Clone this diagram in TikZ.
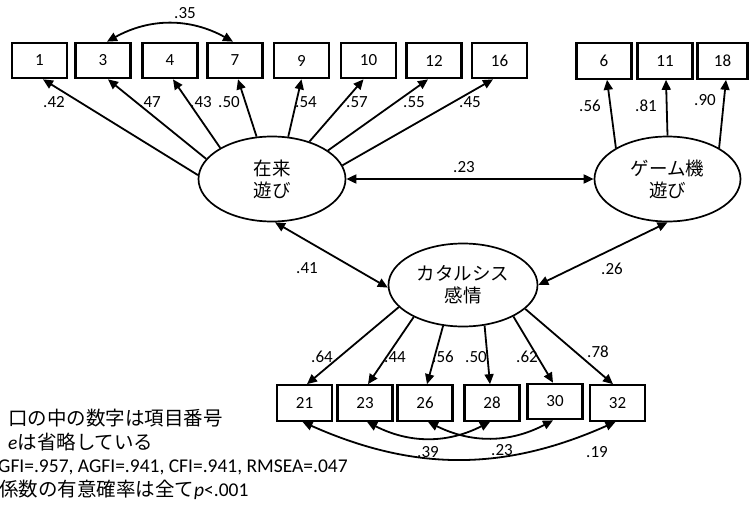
\documentclass[tikz,border=0pt]{standalone}
\usepackage{fontspec}
\setmainfont{Carlito}
\newfontfamily\jp{Noto Sans CJK JP}
\newfontfamily\lat{Carlito}
\usetikzlibrary{shapes.geometric,arrows.meta,calc}
\begin{document}
\begin{tikzpicture}[x=1pt,y=1pt,
  obs/.style={draw,line width=2.2pt,minimum width=55pt,minimum height=35.5pt,inner sep=0pt,font=\fontsize{17}{19}\selectfont},
  lat/.style={draw,ellipse,line width=1.7pt,inner sep=0pt,align=center,font=\fontsize{18.5}{22}\jp},
  pth/.style={line width=1.8pt,-{Triangle[length=10pt,width=9pt]}},
  cov/.style={line width=1.8pt,{Triangle[length=10pt,width=9pt]}-{Triangle[length=10pt,width=9pt]}},
  coef/.style={font=\fontsize{17}{19}\selectfont,inner sep=0pt},
  note/.style={font=\fontsize{19.5}{22}\jp,anchor=west,inner sep=0pt}
]
\useasboundingbox (0,0) rectangle (749,-506);
% top observed
\node[obs] (b1) at (39.5,-60.5) {1};
\node[obs] (b3) at (103,-60.5) {3};
\node[obs] (b4) at (170,-60.5) {4};
\node[obs] (b7) at (235,-60.5) {7};
\node[obs] (b9) at (301.5,-60.5) {9};
\node[obs] (b10) at (368.5,-60.5) {10};
\node[obs] (b12) at (434,-60.5) {12};
\node[obs] (b16) at (499.5,-60.5) {16};
\node[obs] (b6) at (604,-61) {6};
\node[obs] (b11) at (665,-61) {11};
\node[obs,minimum width=50pt] (b18) at (722.5,-61) {18};
% bottom observed
\node[obs] (b21) at (304.5,-403) {21};
\node[obs] (b23) at (365,-403) {23};
\node[obs] (b26) at (425,-403) {26};
\node[obs] (b28) at (492,-403) {28};
\node[obs] (b30) at (555,-401.5) {30};
\node[obs] (b32) at (617.5,-403) {32};
% latent
\node[lat,minimum width=147pt,minimum height=85pt] (zr) at (272,-179) {在来\\遊び};
\node[lat,minimum width=146pt,minimum height=85pt] (gm) at (667.5,-179) {ゲーム機\\遊び};
\node[lat,minimum width=149pt,minimum height=83pt] (ct) at (463,-285) {カタルシス\\感情};
% loadings
\draw[pth] (zr.177) -- ([xshift=3.5pt]b1.south);
\draw[pth] (zr.163) -- ([xshift=5pt]b3.south);
\draw[pth] (zr.149) -- ([xshift=3pt]b4.south);
\draw[pth] (zr.110) -- ([xshift=3pt]b7.south);
\draw[pth] (zr.69) -- (b9.south);
\draw[pth] (zr.45) -- ([xshift=-5pt]b10.south);
\draw[pth] (zr.27) -- ([xshift=-6pt]b12.south);
\draw[pth] (zr.11) -- ([xshift=-6.5pt]b16.south);
\draw[pth] (gm.149) -- ([xshift=3pt]b6.south);
\draw[pth] (gm.90) -- ([xshift=1pt]b11.south);
\draw[pth] (gm.31) -- ([xshift=3.5pt]b18.south);
\draw[pth] (ct.199) -- ([xshift=2.5pt]b21.north);
\draw[pth] (ct.213) -- ([xshift=3pt]b23.north);
\draw[pth] (ct.244) -- ([xshift=2pt]b26.north);
\draw[pth] (ct.298) -- ([xshift=-2pt]b28.north);
\draw[pth] (ct.328) -- ([xshift=-2pt]b30.north);
\draw[pth] (ct.339) -- ([xshift=-4.5pt]b32.north);
% covariances
\draw[cov] (zr.east) -- (gm.west);
\draw[cov] (zr.274) -- (ct.182);
\draw[cov] (gm.270) -- (ct.0);
\draw[cov] ([xshift=4pt]b3.north) to[bend left=29] ([xshift=-2pt]b7.north);
\draw[cov] ([xshift=-2pt]b21.south) to[bend right=24] ([xshift=-2pt]b32.south);
\draw[cov] ([xshift=2pt]b23.south) to[bend right=27] ([xshift=-2pt]b28.south);
\draw[cov] ([xshift=3pt]b26.south) to[bend right=27] ([xshift=-2pt]b30.south);
% coefficients
\node[coef] (c35) at (185,-13) {.35};
\node[coef] (c1) at (54,-102) {.42};
\node[coef] (c3) at (150,-102) {.47};
\node[coef] (c4) at (201,-102) {.43};
\node[coef] (c7) at (229,-102) {.50};
\node[coef] (c9) at (306,-102) {.54};
\node[coef] (c10) at (357,-102) {.57};
\node[coef] (c12) at (414,-102) {.55};
\node[coef] (c16) at (470,-102) {.45};
\node[coef] (c6) at (590,-106) {.56};
\node[coef] (c11) at (646,-106) {.81};
\node[coef] (c18) at (705,-100) {.90};
\node[coef] (czg) at (464,-167) {.23};
\node[coef] (czc) at (307,-268) {.41};
\node[coef] (cgc) at (612,-269) {.26};
\node[coef] (c21) at (322,-357) {.64};
\node[coef] (c23) at (395,-357) {.44};
\node[coef] (c26) at (443,-357) {.56};
\node[coef] (c28) at (476,-357) {.50};
\node[coef] (c30) at (527,-357) {.62};
\node[coef] (c32) at (598,-352) {.78};
\node[coef] (e39) at (428,-452) {.39};
\node[coef] (e23) at (502,-450) {.23};
\node[coef] (e19) at (597,-452) {.19};
% notes
\node[note] (n1) at (8,-418) {口の中の数字は項目番号};
\node[note] (n2) at (8,-442) {{\lat\itshape e}は省略している};
\node[note,font=\fontsize{19.5}{22}\lat] (n3) at (-2,-467) {GFI=.957, AGFI=.941, CFI=.941, RMSEA=.047};
\node[note] (n4) at (-1,-490) {係数の有意確率は全て{\lat\itshape p}{\lat <.001}};
\end{tikzpicture}
\end{document}
